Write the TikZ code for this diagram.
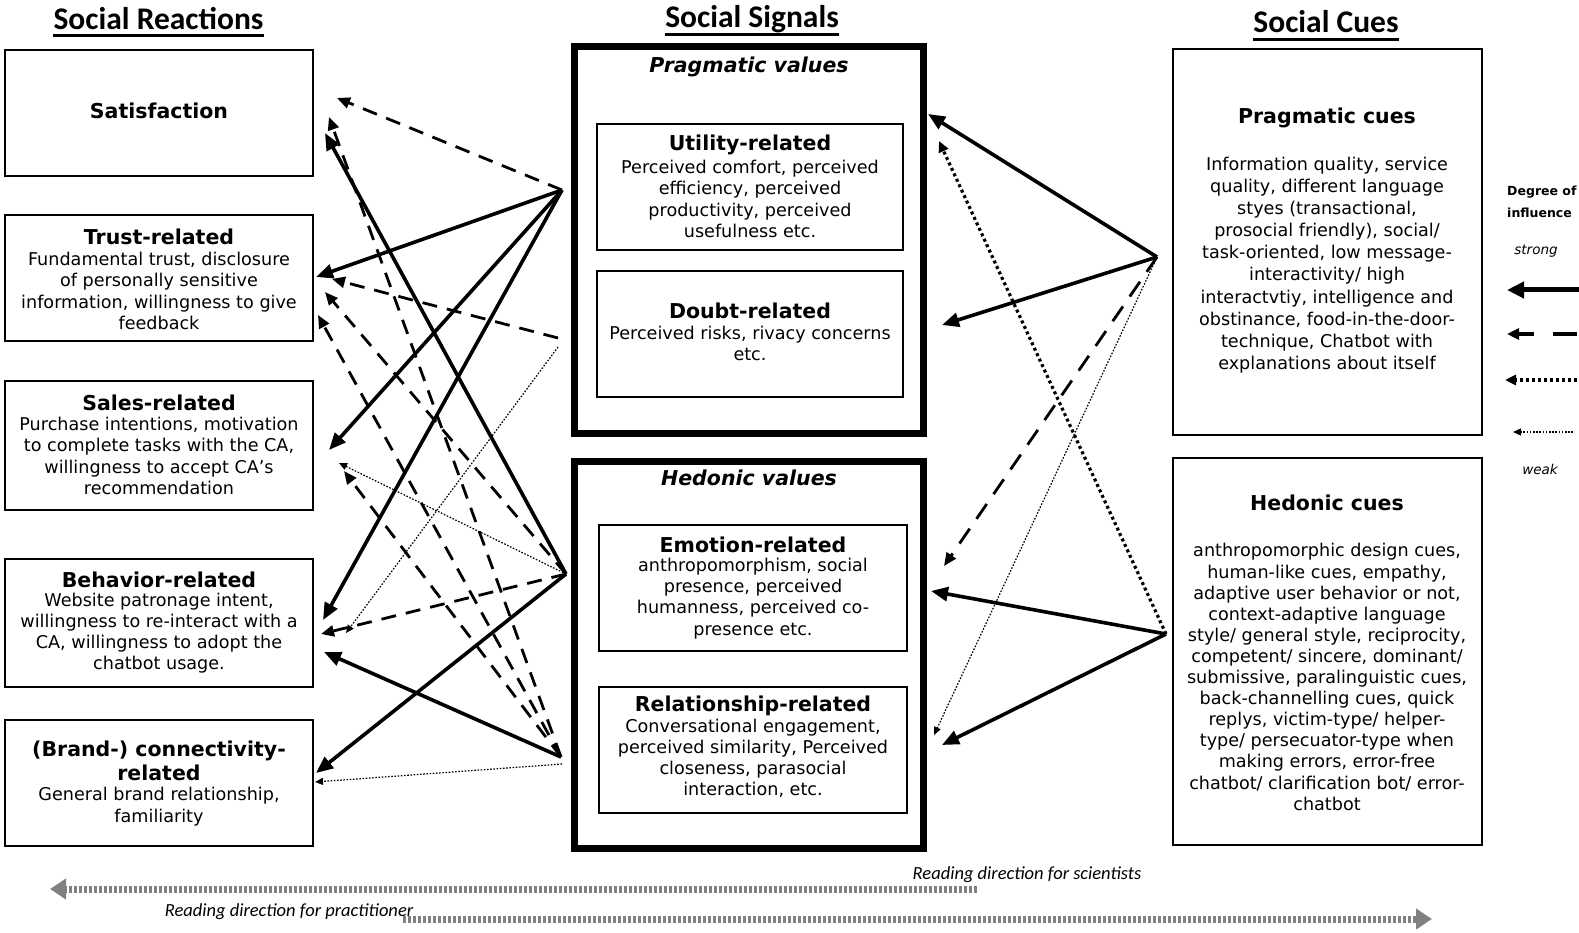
\documentclass[tikz,border=0pt]{standalone}
\usepackage{fontspec}
\setmainfont{DejaVu Sans}
\newfontfamily\titlefont{Carlito}
\usetikzlibrary{arrows.meta}
\begin{document}
\begin{tikzpicture}[x=1pt,y=-1pt,
  box/.style={draw, line width=1.6pt, inner sep=0pt},
  bigbox/.style={draw, line width=6.5pt, inner sep=0pt},
  hd/.style={font=\fontsize{20.5}{24.5}\selectfont\bfseries, align=center, inner sep=0pt},
  bd/.style={font=\fontsize{17.6}{21.2}\selectfont, align=center, inner sep=0pt},
  grp/.style={font=\fontsize{20.5}{24.5}\selectfont\bfseries\itshape, inner sep=0pt},
  ttl/.style={font=\titlefont\fontsize{31.5}{36}\selectfont\bfseries, inner sep=0pt, anchor=base},
  uline/.style={line width=3pt},
  solidarr/.style={line width=3.6pt, -{Triangle[length=17pt,width=14pt]}},
  dasharr/.style={line width=2.8pt, dash pattern=on 15pt off 10pt, -{Triangle[length=13pt,width=11pt]}},
  dotarr/.style={line width=3.2pt, dash pattern=on 3pt off 3pt, -{Triangle[length=11pt,width=10pt]}},
  thinarr/.style={line width=1.2pt, dash pattern=on 1.6pt off 1.6pt, -{Triangle[length=8pt,width=7pt]}},
  legtxt/.style={font=\fontsize{12.5}{15}\selectfont\bfseries, inner sep=0pt, anchor=west},
  legit/.style={font=\fontsize{13.5}{16}\selectfont\itshape, inner sep=0pt},
  readtxt/.style={font=\titlefont\fontsize{18.5}{22}\selectfont\itshape, inner sep=0pt},
  greyarr/.style={draw=black!50, line width=7pt, dash pattern=on 2.6pt off 2.4pt, -{Triangle[length=16pt,width=20pt,fill=black!50,color=black!50]}}
]
\useasboundingbox (0,0) rectangle (1579,933);

% Titles
\node[ttl] (t1) at (158.5,29.5) {Social Reactions};
\node[ttl] (t2) at (752,27.5) {Social Signals};
\node[ttl] (t3) at (1326,32.5) {Social Cues};
\draw[uline] ([yshift=-6.5pt]t1.base west) -- ([yshift=-6.5pt]t1.base east);
\draw[uline] ([yshift=-7pt]t2.base west) -- ([yshift=-7pt]t2.base east);
\draw[uline] ([yshift=-7pt]t3.base west) -- ([yshift=-7pt]t3.base east);

% Left boxes
\node[box, minimum width=308pt, minimum height=126pt] (sat) at (159,113) {};
\node[box, minimum width=308pt, minimum height=126pt] (trust) at (159,278) {};
\node[box, minimum width=308pt, minimum height=129pt] (sales) at (159,445.5) {};
\node[box, minimum width=308pt, minimum height=128pt] (behav) at (159,623) {};
\node[box, minimum width=308pt, minimum height=126pt] (brand) at (159,783) {};

\node[hd] (satH) at (159,111) {Satisfaction};
\node[hd] (trustH) at (159,237) {Trust-related};
\node[bd] (trustB) at (159,291) {Fundamental trust, disclosure\\of personally sensitive\\information, willingness to give\\feedback};
\node[hd] (salesH) at (159,403) {Sales-related};
\node[bd] (salesB) at (159,456) {Purchase intentions, motivation\\to complete tasks with the CA,\\willingness to accept CA's\\recommendation};
\node[hd] (behavH) at (159,580) {Behavior-related};
\node[bd] (behavB) at (159,633) {Website patronage intent,\\willingness to re-interact with a\\CA, willingness to adopt the\\chatbot usage.};
\node[hd] (brandH) at (159,761) {(Brand-) connectivity-\\related};
\node[bd, font=\fontsize{17.6}{22}\selectfont] (brandB) at (159,807) {General brand relationship,\\familiarity};

% Middle boxes
\node[bigbox, minimum width=349pt, minimum height=387pt] (prag) at (749,240) {};
\node[bigbox, minimum width=349pt, minimum height=387pt] (hed) at (749,655) {};
\node[grp] (pragT) at (749,67) {Pragmatic values};
\node[grp] (hedT) at (749,478) {Hedonic values};

\node[box, minimum width=306pt, minimum height=126pt] (util) at (750,187) {};
\node[box, minimum width=306pt, minimum height=126pt] (doubt) at (750,334) {};
\node[box, minimum width=308pt, minimum height=126pt] (emo) at (753,588) {};
\node[box, minimum width=308pt, minimum height=126pt] (rel) at (753,750) {};

\node[hd] (utilH) at (750,145) {Utility-related};
\node[bd] (utilB) at (750,199) {Perceived comfort, perceived\\efficiency, perceived\\productivity, perceived\\usefulness etc.};
\node[hd] (doubtH) at (750,311) {Doubt-related};
\node[bd] (doubtB) at (750,343.5) {Perceived risks, rivacy concerns\\etc.};
\node[hd] (emoH) at (753,545) {Emotion-related};
\node[bd] (emoB) at (753,598.5) {anthropomorphism, social\\presence, perceived\\humanness, perceived co-\\presence etc.};
\node[hd] (relH) at (753,706) {Relationship-related};
\node[bd] (relB) at (753,758.5) {Conversational engagement,\\perceived similarity, Perceived\\closeness, parasocial\\interaction, etc.};

% Right boxes
\node[box, minimum width=309pt, minimum height=386pt] (pc) at (1327.5,242) {};
\node[box, minimum width=309pt, minimum height=387pt] (hc) at (1327.5,651.5) {};
\node[hd] (pcH) at (1327,118) {Pragmatic cues};
\node[bd, font=\fontsize{17.6}{22.1}\selectfont] (pcB) at (1327,265) {Information quality, service\\quality, different language\\styes (transactional,\\prosocial friendly), social/\\task-oriented, low message-\\interactivity/ high\\interactvtiy, intelligence and\\obstinance, food-in-the-door-\\technique, Chatbot with\\explanations about itself};
\node[hd] (hcH) at (1327,503) {Hedonic cues};
\node[bd, font=\fontsize{17.6}{21.1}\selectfont] (hcB) at (1327,677) {anthropomorphic design cues,\\human-like cues, empathy,\\adaptive user behavior or not,\\context-adaptive language\\style/ general style, reciprocity,\\competent/ sincere, dominant/\\submissive, paralinguistic cues,\\back-channelling cues, quick\\replys, victim-type/ helper-\\type/ persecuator-type when\\making errors, error-free\\chatbot/ clarification bot/ error-\\chatbot};

% Hub and tip coordinates
\coordinate (hA) at (562,190);
\coordinate (hB) at (558,338);
\coordinate (hB2) at (558,347);
\coordinate (hC) at (566,574);
\coordinate (hD) at (561,757);
\coordinate (hD2) at (562,764);
\coordinate (hE) at (1157,257);
\coordinate (hF) at (1166,634);

\coordinate (satA) at (337,98);
\coordinate (satD) at (329,117);
\coordinate (satC) at (325,133);
\coordinate (trustA) at (316,277);
\coordinate (trustB) at (332,279);
\coordinate (trustC) at (325,292);
\coordinate (trustD) at (318,315);
\coordinate (salesA) at (329,450);
\coordinate (salesC) at (339,463);
\coordinate (salesD) at (344,471);
\coordinate (behavA) at (323,620);
\coordinate (behavC) at (321,634);
\coordinate (behavB) at (346,633);
\coordinate (behavD) at (324,652);
\coordinate (brandC) at (316,773);
\coordinate (brandD) at (315,782);

\coordinate (pragE) at (928,114);
\coordinate (pragF) at (939,141);
\coordinate (doubtE) at (942,325);
\coordinate (emoE) at (944,566);
\coordinate (emoF) at (931,591);
\coordinate (relE) at (934,735);
\coordinate (relF) at (942,745);

% Left connectors
\draw[dasharr] (hA) -- (satA);
\draw[solidarr] (hA) -- (trustA);
\draw[solidarr] (hA) -- (salesA);
\draw[solidarr] (hA) -- (behavA);
\draw[dasharr] (hB) -- (trustB);
\draw[thinarr] (hB2) -- (behavB);
\draw[solidarr] (hC) -- (satC);
\draw[dasharr] (hC) -- (trustC);
\draw[thinarr] (hC) -- (salesC);
\draw[dasharr] (hC) -- (behavC);
\draw[solidarr] (hC) -- (brandC);
\draw[dasharr] (hD) -- (satD);
\draw[dasharr] (hD) -- (trustD);
\draw[dasharr] (hD) -- (salesD);
\draw[solidarr] (hD) -- (behavD);
\draw[thinarr] (hD2) -- (brandD);

% Right connectors
\draw[solidarr] (hE) -- (pragE);
\draw[solidarr] (hE) -- (doubtE);
\draw[dasharr, dash pattern=on 18pt off 12pt] (hE) -- (emoE);
\draw[thinarr] (hE) -- (relE);
\draw[dotarr] (hF) -- (pragF);
\draw[solidarr] (hF) -- (emoF);
\draw[solidarr] (hF) -- (relF);

% Legend
\node[legtxt] (lg1) at (1507,192) {Degree of};
\node[legtxt] (lg2) at (1507,213) {influence};
\node[legit] (lgS) at (1536,251) {strong};
\node[legit] (lgW) at (1540,469) {weak};
\coordinate (l1a) at (1579,290); \coordinate (l1b) at (1507,290);
\coordinate (l2a) at (1577,334); \coordinate (l2b) at (1507,334);
\coordinate (l3a) at (1577,380); \coordinate (l3b) at (1505,380);
\coordinate (l4a) at (1573,432); \coordinate (l4b) at (1513,432);
\draw[line width=5pt, -{Triangle[length=17pt,width=16pt]}] (l1a) -- (l1b);
\draw[line width=3.5pt, dash pattern=on 24pt off 19pt, -{Triangle[length=12pt,width=11pt]}] (l2a) -- (l2b);
\draw[dotarr] (l3a) -- (l3b);
\draw[thinarr] (l4a) -- (l4b);

% Reading directions
\coordinate (r1a) at (977,889); \coordinate (r1b) at (50,889);
\coordinate (r2a) at (403,919); \coordinate (r2b) at (1432,919);
\draw[greyarr] (r1a) -- (r1b);
\draw[greyarr] (r2a) -- (r2b);
\node[readtxt] (rs) at (1027,875) {Reading direction for scientists};
\node[readtxt] (rp) at (289,912) {Reading direction for practitioner};
\end{tikzpicture}
\end{document}
